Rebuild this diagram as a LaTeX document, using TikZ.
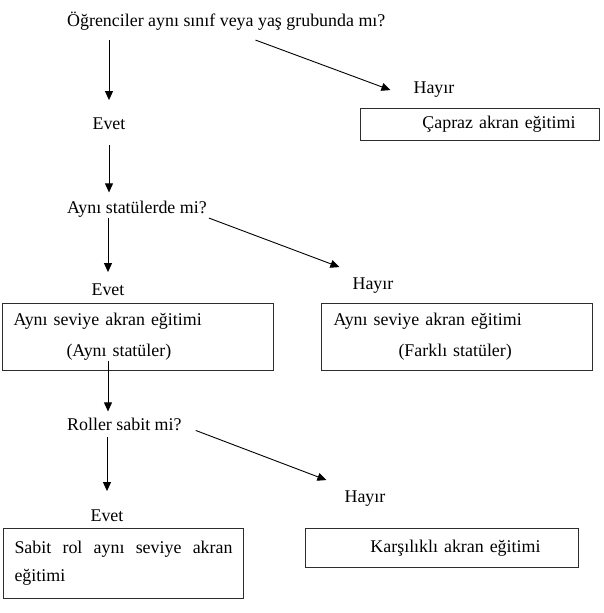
\documentclass[tikz,border=0pt]{standalone}
\usepackage{fontspec}
\setmainfont{Liberation Serif}
\usepackage{tikz}
\usetikzlibrary{arrows.meta,calc}
\definecolor{akedge}{RGB}{45,45,45}
\newcommand\akfont{\fontsize{17.9}{31}\selectfont}
\tikzset{
  ques/.style={anchor=base west, inner sep=0pt, font=\akfont},
  ans/.style={anchor=base, inner sep=0pt, font=\akfont},
  kutu/.style={
    draw=akedge, line width=1pt, anchor=north west, font=\akfont,
    inner ysep=0pt
  },
  arr/.style={-{Triangle[length=9pt,width=8pt]}, draw=black, line width=0.9pt}
}
\begin{document}
\begin{tikzpicture}[x=1pt,y=-1pt]
  \useasboundingbox (0,0) rectangle (603,613);
  % questions
  \node[ques] (q1) at (67,26) {Öğrenciler aynı sınıf veya yaş grubunda mı?};
  \node[ques] (q2) at (67,213) {Aynı statülerde mi?};
  \node[ques] (q3) at (67,430) {Roller sabit mi?};
  % answers
  \node[ans] (e1) at (109,129) {Evet};
  \node[ans] (e2) at (108,295) {Evet};
  \node[ans] (e3) at (107,521) {Evet};
  \node[ans] (h1) at (434,93) {Hayır};
  \node[ans] (h2) at (373,289) {Hayır};
  \node[ans] (h3) at (365,502) {Hayır};
  % boxes
  \node[kutu, inner xsep=24pt, text width=191pt, align=right, minimum height=32pt]
    (b1) at (360,108) {Çapraz akran eğitimi};
  \node[kutu, inner xsep=11pt, text width=249pt, align=left, minimum height=67pt]
    (b2l) at (2,303) {Aynı seviye akran eğitimi\\\hspace*{53pt}(Aynı statüler)};
  \node[kutu, inner xsep=12pt, text width=247pt, align=left, minimum height=67pt]
    (b2r) at (321,303) {Aynı seviye akran eğitimi\\\hspace*{65pt}(Farklı statüler)};
  \node[kutu, inner xsep=11pt, text width=218pt, align=left, minimum height=70pt,
    font=\fontsize{17.9}{28}\selectfont]
    (b3l) at (3,528) {Sabit\hfill rol\hfill aynı\hfill seviye\hfill akran\\eğitimi};
  \node[kutu, inner xsep=38pt, text width=197pt, align=right, minimum height=39pt]
    (b3r) at (305,528) {Karşılıklı akran eğitimi};
  % vertical arrows
  \draw[arr] ($(e1 |- q1.south)+(0,10)$) -- ($(e1.north)+(0,-17)$);
  \draw[arr] ($(e1.south)+(0,16)$) -- ($(e1 |- q2.north)+(0,-8)$);
  \draw[arr] ($(e2 |- q2.south)+(0,1)$) -- ($(e2.north)+(0,-11)$);
  \draw[arr] ($(e2 |- b2l.south)+(0,-10)$) -- ($(e2 |- q3.north)+(0,-6)$);
  \draw[arr] ($(e3 |- q3.south)+(0,7)$) -- ($(e3.north)+(0,-18)$);
  % diagonal arrows
  \draw[arr] ($(q1.south east)+(-130,10)$) -- ($(h1.west)+(-23,1)$);
  \draw[arr] ($(q2.south east)+(2,1)$) -- ($(h2.west)+(-13,-18)$);
  \draw[arr] ($(q3.south east)+(14,0)$) -- ($(h3.west)+(-18,-18)$);
\end{tikzpicture}
\end{document}
